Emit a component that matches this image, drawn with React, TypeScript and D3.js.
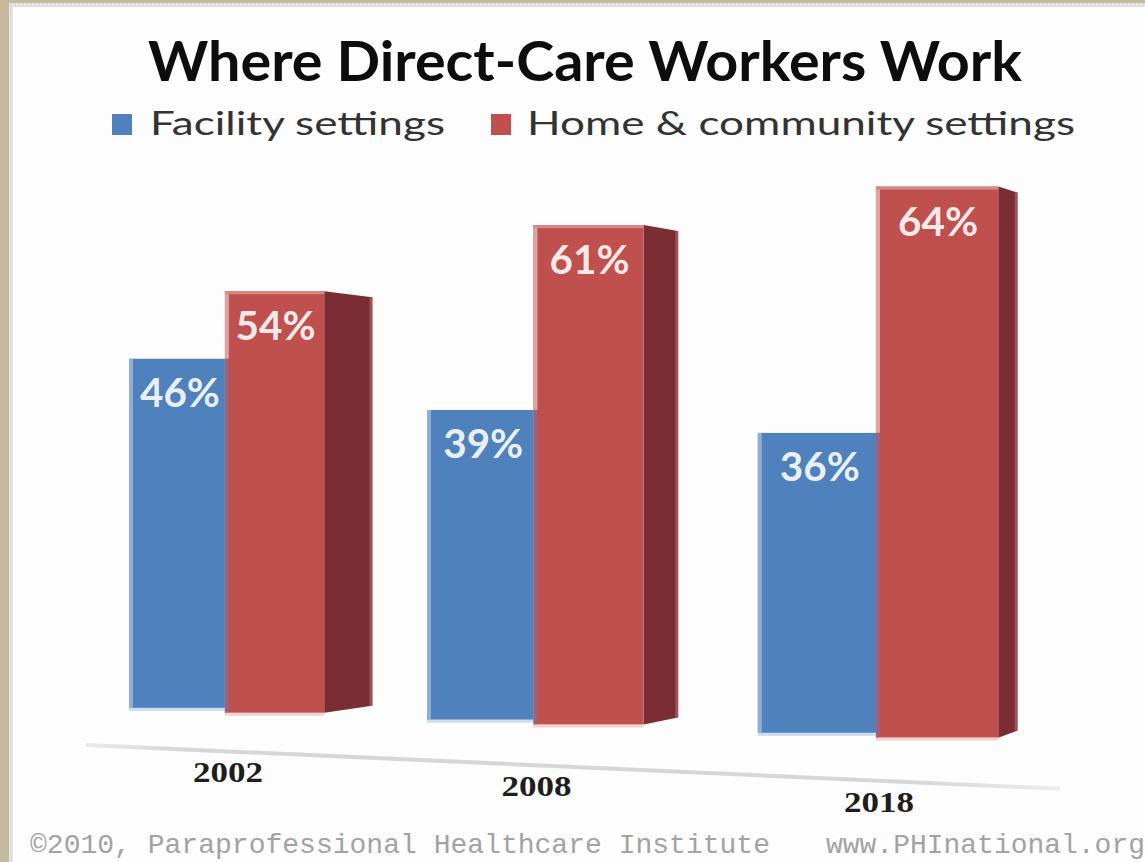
import React from "react";
import * as d3 from "d3";

const categories = ["2002", "2008", "2018"];
const facility = [46, 39, 36];
const home = [54, 61, 64];
const seriesNames = ["Facility settings", "Home & community settings"];
const seriesColors = ["#4f81bd", "#c0504d"];
const title = "Where Direct-Care Workers Work";
const footerLeft = "©2010, Paraprofessional Healthcare Institute";
const footerRight = "www.PHInational.org";

const W = 1145;
const H = 862;

// perspective helpers (layout)
const r = 1.11;
const x0 = 129;
const S = 298;
const X = (u: number) => x0 + (S * (Math.pow(r, u) - 1)) / (r - 1);
const baseBlue = (x: number) => 701 + 0.039 * x;
const baseRed = (x: number) => 702.5 + 0.0375 * x;
const kBlue = (x: number) => 7.385 + 0.00116 * x;
const kRed = (x: number) => 7.476 + 0.00121 * x;
const floorY = (x: number) => 745 + 0.045 * (x - 86);

function yScale(base: number, k: number) {
  return d3.scaleLinear().domain([0, 100]).range([base, base - 100 * k]);
}

export default function App() {
  const band = d3.scaleBand<string>().domain(categories).range([0, categories.length]).paddingInner(0).paddingOuter(0);
  const third = 1 / 3;

  const groups = categories.map((c, i) => {
    const u = band(c)!;
    const bx0 = X(u);
    const bx1 = X(u + third);
    const rx1 = X(u + 2 * third);
    const bc = (bx0 + bx1) / 2;
    const rc = (bx1 + rx1) / 2;
    const yb = yScale(baseBlue(bc), kBlue(bc));
    const yr = yScale(baseRed(rc), kRed(rc));
    const sw = 0.043 * (1438 - rx1);
    return { c, i, bx0, bx1, rx1, bc, rc, yb, yr, sw, fv: facility[i], hv: home[i] };
  });

  const labelFont = "Lato, 'Open Sans', sans-serif";

  return (
    <svg width={W} height={H} style={{ position: "fixed", left: 0, top: 0, display: "block" }}>
      <defs>
        <linearGradient id="floorGrad" x1="0" x2="1" y1="0" y2="0">
          <stop offset="0" stopColor="#d6d6d6" stopOpacity="0.5" />
          <stop offset="0.1" stopColor="#d6d6d6" stopOpacity="1" />
          <stop offset="0.85" stopColor="#d6d6d6" stopOpacity="1" />
          <stop offset="1" stopColor="#d6d6d6" stopOpacity="0.4" />
        </linearGradient>
        <pattern id="dots" width="4" height="4" patternUnits="userSpaceOnUse">
          <rect width="4" height="4" fill="#dcdcdc" />
          <rect width="2" height="4" fill="#e6e6e6" />
        </pattern>
      </defs>
      <rect x={0} y={0} width={W} height={H} fill="#c5b99e" />
      <rect x={9} y={3} width={W - 9} height={H - 3} fill="url(#dots)" />
      <rect x={13} y={7} width={W - 13} height={H - 7} fill="#fcfdfc" />

      <text x={585} y={81} textAnchor="middle" fontFamily={labelFont} fontWeight={700} fontSize={56}
        textLength={874} lengthAdjust="spacingAndGlyphs" fill="#0d0d0d">{title}</text>

      {/* legend */}
      <rect x={112} y={114} width={20} height={21} fill={seriesColors[0]} />
      <text x={150} y={135} fontFamily={labelFont} fontSize={33} fill="#333" textLength={295}
        lengthAdjust="spacingAndGlyphs">{seriesNames[0]}</text>
      <rect x={491} y={114} width={20} height={21} fill={seriesColors[1]} />
      <text x={527} y={135} fontFamily={labelFont} fontSize={33} fill="#333" textLength={548}
        lengthAdjust="spacingAndGlyphs">{seriesNames[1]}</text>

      {/* floor line */}
      <line x1={86} y1={floorY(86)} x2={1060} y2={floorY(1060)} stroke="url(#floorGrad)" strokeWidth={4} />

      {groups.map((g) => {
        const bTop = g.yb(g.fv);
        const bBot = g.yb(0);
        const rTop = g.yr(g.hv);
        const rBot = g.yr(0);
        const sideX = g.rx1 + g.sw;
        return (
          <g key={g.c}>
            {/* blue bar */}
            <rect x={g.bx0} y={bTop} width={g.bx1 - g.bx0} height={bBot - bTop} fill={seriesColors[0]} />
            <rect x={g.bx0} y={bTop} width={4} height={bBot - bTop} fill="#9dbadf" opacity={0.8} />
            <rect x={g.bx0} y={bBot} width={g.bx1 - g.bx0} height={3} fill="#c3d3ea" opacity={0.8} />
            {/* red side face */}
            <polygon
              points={`${g.rx1},${rTop} ${sideX},${rTop + 6} ${sideX},${rBot - 7} ${g.rx1},${rBot}`}
              fill="#7a2e33" />
            <line x1={sideX - 1} y1={rTop + 6} x2={sideX - 1} y2={rBot - 7} stroke="#9a5558" strokeWidth={3} />
            {/* red front */}
            <rect x={g.bx1} y={rTop} width={g.rx1 - g.bx1} height={rBot - rTop} fill={seriesColors[1]} />
            <rect x={g.bx1} y={rTop} width={4} height={bTop - rTop} fill="#dfa3a2" />
            <rect x={g.bx1} y={bTop} width={4} height={rBot - bTop} fill="#8c6a90" opacity={0.7} />
            <rect x={g.bx1} y={rTop} width={g.rx1 - g.bx1} height={3} fill="#d98886" />
            <rect x={g.bx1} y={rBot} width={g.rx1 - g.bx1} height={3} fill="#efc9c8" opacity={0.8} />
            {/* value labels */}
            <text x={g.bc + 3} y={bTop + 48} textAnchor="middle" fontFamily={labelFont} fontWeight={700}
              fontSize={40} fill="#ffffff" fillOpacity={0.9} textLength={80} lengthAdjust="spacingAndGlyphs">
              {`${g.fv}%`}
            </text>
            <text x={g.rc + 1} y={rTop + 49} textAnchor="middle" fontFamily={labelFont} fontWeight={700}
              fontSize={40} fill="#ffffff" fillOpacity={0.9} textLength={80} lengthAdjust="spacingAndGlyphs">
              {`${g.hv}%`}
            </text>
            {/* year label */}
            <text x={g.bx1 + 3} y={floorY(g.bx1) + 31} textAnchor="middle" fontFamily="'Liberation Serif', serif"
              fontWeight={700} fontSize={30} fill="#1e1e1e" textLength={70} lengthAdjust="spacingAndGlyphs">
              {g.c}
            </text>
          </g>
        );
      })}

      {/* footer */}
      <text x={30} y={853} fontFamily="'Liberation Mono', monospace" fontSize={28} fill="#a3a3a3"
        textLength={740} lengthAdjust="spacingAndGlyphs">{footerLeft}</text>
      <text x={826} y={853} fontFamily="'Liberation Mono', monospace" fontSize={28} fill="#a3a3a3"
        textLength={319} lengthAdjust="spacingAndGlyphs">{footerRight}</text>
    </svg>
  );
}
